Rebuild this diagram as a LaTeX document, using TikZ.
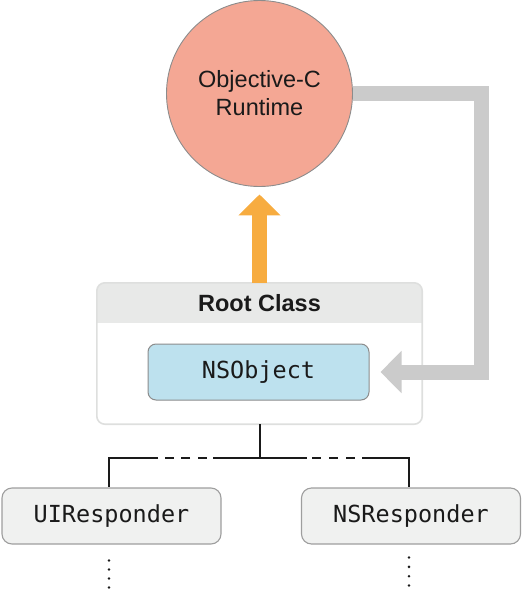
\documentclass[tikz,border=0pt]{standalone}
\usepackage{fontspec}
\setmainfont{Liberation Sans}
\setmonofont{DejaVu Sans Mono}
\usetikzlibrary{arrows.meta,calc}
\definecolor{salmon}{HTML}{F4A794}
\definecolor{orng}{HTML}{F7AC40}
\definecolor{garrow}{HTML}{CBCBCB}
\definecolor{hdr}{HTML}{E8E9E8}
\definecolor{rootborder}{HTML}{DEDFDE}
\definecolor{nsblue}{HTML}{BDE1EE}
\definecolor{lightbox}{HTML}{F0F1F0}
\definecolor{txt}{HTML}{1A1A1A}
\tikzset{
  sanstext/.style={font=\fontsize{23.5}{28}\selectfont, text=txt},
  monotext/.style={font=\ttfamily\fontsize{23.5}{28}\selectfont, text=txt},
  runtime/.style={circle, minimum size=186pt, inner sep=0pt, fill=salmon, draw=black!45, line width=0.9pt, align=center, sanstext},
  rootframe/.style={rectangle, rounded corners=8pt, minimum width=325pt, minimum height=141pt, inner sep=0pt},
  classbox/.style={rectangle, rounded corners=8pt, minimum width=221pt, minimum height=56pt, inner sep=0pt, fill=nsblue, draw=black!45, line width=1pt, monotext},
  subbox/.style={rectangle, rounded corners=10pt, minimum width=219pt, minimum height=56pt, inner sep=0pt, fill=lightbox, draw=black!38, line width=1.1pt, monotext},
  bigarrow/.style={line width=15pt, -{Triangle[width=41pt,length=21pt]}},
  tree/.style={line width=2pt, draw=txt},
}
\begin{document}
\begin{tikzpicture}[x=1pt,y=-1pt]
\useasboundingbox (0,0) rectangle (522,589);
% root class frame
\node[rootframe, fill=white] (rootbox) at (259.5,353.5) {};
\begin{scope}
  \clip[rounded corners=8pt] (rootbox.north west) rectangle (rootbox.south east);
  \fill[hdr] (rootbox.north west) rectangle ([yshift=-40pt]rootbox.north east);
\end{scope}
\draw[rootborder, line width=1.6pt, rounded corners=8pt] (rootbox.north west) rectangle (rootbox.south east);
\node[sanstext, font=\bfseries\fontsize{23.5}{28}\selectfont] (roottitle) at (259.5,303.5) {Root Class};
% NSObject
\node[classbox] (nso) at (258.5,372) {NSObject};
% runtime circle
\node[runtime] (rt) at (259.5,93.5) {Objective-C\\Runtime};
% gray arrow from runtime to NSObject
\coordinate (gc) at (481,93.5);
\draw[bigarrow, draw=garrow] (rt.east) -- (gc) |- ([xshift=11pt]nso.east);
% orange arrow
\draw[bigarrow, draw=orng] (rootbox.north) -- ([yshift=-7.5pt]rt.south);
% subclasses
\node[subbox] (ui) at (111.5,516) {UIResponder};
\node[subbox] (nsr) at (411,516) {NSResponder};
% tree
\coordinate (j) at (259.5,458);
\draw[tree] (rootbox.south) -- (j);
\draw[tree, dash pattern=on 46.5pt off 6.5pt on 9pt off 7.5pt on 9pt off 7.5pt on 9pt off 6.5pt on 300pt off 1pt] (j) -| ([xshift=-2.5pt]ui.north);
\draw[tree, dash pattern=on 47.5pt off 5pt on 9pt off 8pt on 9pt off 8pt on 9pt off 7pt on 300pt off 1pt] (j) -| ([xshift=-2pt]nsr.north);
% continuation dots
\foreach \i in {0,...,3} {
  \fill[txt] ($(ui.south)+(-2.5,16+9*\i)$) circle (1.4pt);
  \fill[txt] ($(nsr.south)+(-2,13+9.3*\i)$) circle (1.4pt);
}
\end{tikzpicture}
\end{document}
